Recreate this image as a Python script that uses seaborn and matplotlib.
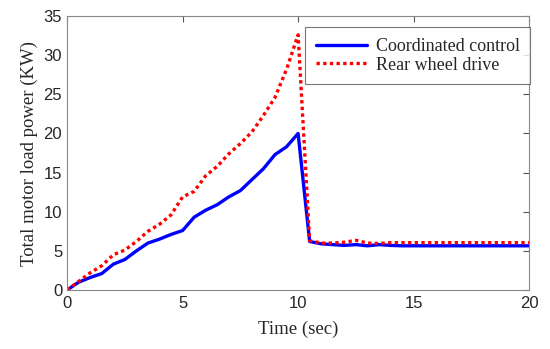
import numpy as np
import pandas as pd
import matplotlib
matplotlib.use("Agg")
import matplotlib.pyplot as plt
import seaborn as sns

time = [0, 0.5, 1, 1.5, 2, 2.5, 3, 3.5, 4, 4.5, 5, 5.5, 6, 6.5, 7, 7.5, 8, 8.5, 9, 9.5, 10,
        10.5, 11, 11.5, 12, 12.5, 13, 13.5, 14, 14.5, 15, 16, 17, 18, 19, 20]
coordinated = [0, 1.0, 1.6, 2.1, 3.3, 3.9, 5.0, 6.0, 6.5, 7.1, 7.6, 9.3, 10.2, 10.9, 11.9, 12.7,
               14.1, 15.5, 17.3, 18.3, 20.0,
               6.2, 5.9, 5.8, 5.7, 5.8, 5.65, 5.8, 5.7, 5.65, 5.65, 5.65, 5.65, 5.65, 5.65, 5.65]
rear = [0, 1.1, 2.2, 3.1, 4.5, 5.1, 6.2, 7.5, 8.4, 9.6, 11.9, 12.6, 14.6, 15.8, 17.4, 18.7,
        20.2, 22.3, 24.6, 28.2, 32.6,
        6.3, 6.0, 6.0, 6.1, 6.35, 6.0, 5.95, 6.05, 6.05, 6.05, 6.05, 6.05, 6.05, 6.05, 6.05]
series_names = ["Coordinated control", "Rear wheel drive"]
x_ticks = [0, 5, 10, 15, 20]
y_ticks = [0, 5, 10, 15, 20, 25, 30, 35]

df = pd.DataFrame({
    "t": time * 2,
    "p": coordinated + rear,
    "s": [series_names[0]] * len(time) + [series_names[1]] * len(time),
})

sns.set_style("white")
fig = plt.figure(figsize=(5.5, 3.49), dpi=100)
ax = fig.add_axes([0.122, 0.169, 0.840, 0.785])

sns.lineplot(data=df, x="t", y="p", hue="s", style="s",
             palette={series_names[0]: "#0000ff", series_names[1]: "#ff0000"},
             dashes={series_names[0]: "", series_names[1]: (1, 1)},
             linewidth=2.4, ax=ax, legend=True)

ax.set_xlim(0, 20)
ax.set_ylim(0, 35)
ax.set_xticks(x_ticks)
ax.set_yticks(y_ticks)
ax.tick_params(direction="in", top=True, right=True, length=4, color="#555555",
               labelsize=12)
ax.tick_params(axis="x", pad=4.5)
ax.tick_params(axis="y", pad=3.5)
for lab in ax.get_xticklabels() + ax.get_yticklabels():
    lab.set_fontfamily("Liberation Sans")
for sp in ax.spines.values():
    sp.set_color("#888888")
    sp.set_linewidth(0.8)

ax.set_xlabel("Time (sec)", fontfamily="Liberation Serif", fontsize=13.5, labelpad=7)
ax.set_ylabel("Total motor load power (KW)", fontfamily="Liberation Serif", fontsize=13.5, labelpad=4)

leg = ax.legend(loc="upper right", bbox_to_anchor=(1.003, 0.96),
                prop={"family": "Liberation Serif", "size": 13},
                frameon=True, fancybox=False, borderaxespad=0.0, handlelength=2.8,
                handletextpad=0.5, borderpad=0.6, labelspacing=0.1)
leg.get_frame().set_edgecolor("#555555")
leg.get_frame().set_linewidth(0.8)

fig.savefig("out.png", dpi=100)
